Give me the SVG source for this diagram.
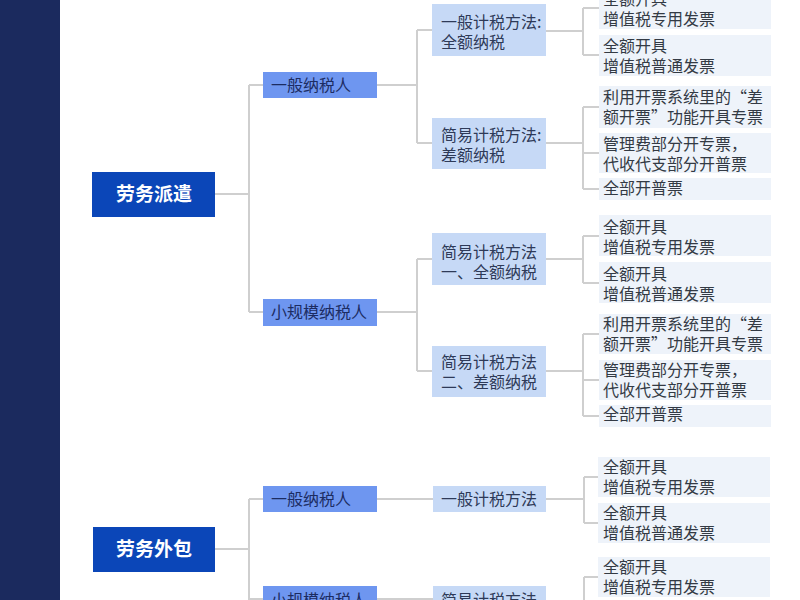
<svg xmlns="http://www.w3.org/2000/svg" width="800" height="600" viewBox="0 0 800 600">
<style>
text{font-family:"Noto Sans CJK SC","Noto Sans",sans-serif;font-size:16px;}
.root rect{fill:#0b46b8;}
.root text{fill:#ffffff;font-size:19px;font-weight:bold;text-anchor:middle;}
.l2 rect{fill:#6e96f0;}
.l2 text{fill:#1c2c62;}
.l3 rect{fill:#c6d9f6;}
.l3 text{fill:#2e3a58;}
.leaf rect{fill:#eef3fa;}
.leaf text{fill:#333a44;}
.conn path{fill:none;stroke:#cfcfcf;stroke-width:2;}
</style>
<rect x="0" y="0" width="800" height="600" fill="#ffffff"/>
<rect x="0" y="0" width="60" height="600" fill="#1b2a5e"/>

<g class="conn">
<path d="M215,194H249M249,85V312M249,85H263M249,312H263"/>
<path d="M377,85H417M417,30V143M417,30H432M417,143H432"/>
<path d="M546,31H583M583,8V55M583,8H599M583,55H599"/>
<path d="M546,143H583M583,107V189M583,107H599M583,153H599M583,189H599"/>
<path d="M377,312H417M417,259V371M417,259H432M417,371H432"/>
<path d="M546,259H583M583,236V283M583,236H599M583,283H599"/>
<path d="M546,371H583M583,334V416M583,334H599M583,380H599M583,416H599"/>
<path d="M215,549H249M249,499V610M249,499H263M249,599H263"/>
<path d="M377,499H433M377,599H433"/>
<path d="M546,499H584M584,477V523M584,477H598M584,523H598"/>
<path d="M584,577V610M584,577H598"/>
</g>

<g id="root1" class="root"><rect x="92" y="172" width="123" height="45"/><text x="154" y="201">劳务派遣</text></g>
<g id="root2" class="root"><rect x="93" y="527" width="122" height="45"/><text x="154" y="556">劳务外包</text></g>

<g id="n-yiban1" class="l2"><rect x="263" y="72" width="114" height="26"/><text x="271" y="91">一般纳税人</text></g>
<g id="n-xiao1" class="l2"><rect x="263" y="299" width="114" height="27"/><text x="271" y="318">小规模纳税人</text></g>
<g id="n-yiban2" class="l2"><rect x="263" y="486" width="114" height="26"/><text x="271" y="505">一般纳税人</text></g>
<g id="n-xiao2" class="l2"><rect x="263" y="586" width="114" height="27"/><text x="271" y="606">小规模纳税人</text></g>

<g id="m1" class="l3"><rect x="432" y="4" width="114" height="52"/><text x="441" y="28">一般计税方法:<tspan x="441" dy="20">全额纳税</tspan></text></g>
<g id="m2" class="l3"><rect x="432" y="118" width="114" height="51"/><text x="441" y="141">简易计税方法:<tspan x="441" dy="20">差额纳税</tspan></text></g>
<g id="m3" class="l3"><rect x="432" y="233" width="114" height="52"/><text x="441" y="258">简易计税方法<tspan x="441" dy="20">一、全额纳税</tspan></text></g>
<g id="m4" class="l3"><rect x="432" y="346" width="114" height="51"/><text x="441" y="368">简易计税方法<tspan x="441" dy="20">二、差额纳税</tspan></text></g>
<g id="m5" class="l3"><rect x="433" y="486" width="113" height="26"/><text x="441" y="505">一般计税方法</text></g>
<g id="m6" class="l3"><rect x="433" y="586" width="113" height="27"/><text x="441" y="606">简易计税方法</text></g>

<g id="f1" class="leaf"><rect x="599" y="-12" width="172" height="41"/><text x="603" y="5">全额开具<tspan x="603" dy="20">增值税专用发票</tspan></text></g>
<g id="f2" class="leaf"><rect x="599" y="35" width="172" height="41"/><text x="603" y="52">全额开具<tspan x="603" dy="20">增值税普通发票</tspan></text></g>
<g id="f3" class="leaf"><rect x="599" y="86" width="172" height="42"/><text x="603" y="103">利用开票系统里的“差<tspan x="603" dy="20">额开票”功能开具专票</tspan></text></g>
<g id="f4" class="leaf"><rect x="599" y="133" width="172" height="40"/><text x="603" y="150">管理费部分开专票，<tspan x="603" dy="20">代收代支部分开普票</tspan></text></g>
<g id="f5" class="leaf"><rect x="599" y="178" width="172" height="22"/><text x="603" y="194">全部开普票</text></g>
<g id="f6" class="leaf"><rect x="599" y="215" width="172" height="41"/><text x="603" y="233">全额开具<tspan x="603" dy="20">增值税专用发票</tspan></text></g>
<g id="f7" class="leaf"><rect x="599" y="262" width="172" height="41"/><text x="603" y="280">全额开具<tspan x="603" dy="20">增值税普通发票</tspan></text></g>
<g id="f8" class="leaf"><rect x="599" y="314" width="172" height="40"/><text x="603" y="330">利用开票系统里的“差<tspan x="603" dy="20">额开票”功能开具专票</tspan></text></g>
<g id="f9" class="leaf"><rect x="599" y="360" width="172" height="40"/><text x="603" y="376">管理费部分开专票，<tspan x="603" dy="20">代收代支部分开普票</tspan></text></g>
<g id="f10" class="leaf"><rect x="599" y="405" width="172" height="22"/><text x="603" y="420">全部开普票</text></g>
<g id="f11" class="leaf"><rect x="598" y="457" width="172" height="40"/><text x="603" y="473">全额开具<tspan x="603" dy="20">增值税专用发票</tspan></text></g>
<g id="f12" class="leaf"><rect x="598" y="503" width="172" height="40"/><text x="603" y="519">全额开具<tspan x="603" dy="20">增值税普通发票</tspan></text></g>
<g id="f13" class="leaf"><rect x="598" y="557" width="172" height="40"/><text x="603" y="573">全额开具<tspan x="603" dy="20">增值税专用发票</tspan></text></g>
</svg>
